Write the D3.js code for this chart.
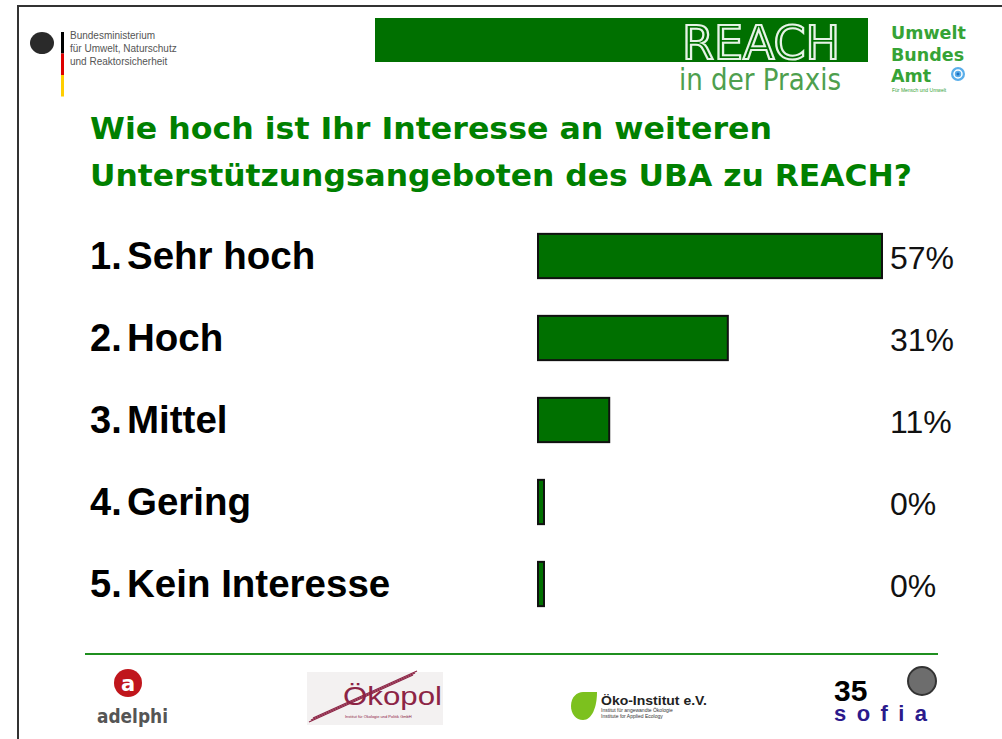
<!DOCTYPE html>
<html>
<head>
<meta charset="utf-8">
<script src="https://d3js.org/d3.v7.min.js"></script>
<style>
  body { margin: 0; background: #fff; }
  svg { display: block; }
</style>
</head>
<body>
<svg width="1002" height="739"></svg>
<script>
// data
var categories = ["Sehr hoch", "Hoch", "Mittel", "Gering", "Kein Interesse"]
var numbers = ["1.", "2.", "3.", "4.", "5."]
var values = [57, 31, 11, 0, 0]
var valueLabels = ["57%", "31%", "11%", "0%", "0%"]
var titleLines = ["Wie hoch ist Ihr Interesse an weiteren", "Unterstützungsangeboten des UBA zu REACH?"]
var ministryLines = ["Bundesministerium", "für Umwelt, Naturschutz", "und Reaktorsicherheit"]
var ubaLines = ["Umwelt", "Bundes", "Amt"]
var flagColors = ["#000000", "#dd0000", "#ffce00"]

const svg = d3.select("svg")
const green = "#007000"

// slide frame
svg.append("path")
  .attr("d", "M18,739 V6 H1002")
  .style("fill", "none").style("stroke", "#333").style("stroke-width", 2)

// ---- header: ministry logo
svg.append("ellipse").attr("cx", 42).attr("cy", 43).attr("rx", 12).attr("ry", 11).style("fill", "#2a2a2a")
svg.append("path").attr("d", "M33,48 Q42,60 51,48 Z").style("fill", "#2a2a2a")
svg.selectAll(".flag").data(flagColors).enter().append("rect")
  .attr("x", 61).attr("width", 3)
  .attr("y", function(d, i){ return 32 + i*21.5 })
  .attr("height", 21.5)
  .style("fill", function(d){ return d })
svg.selectAll(".min").data(ministryLines).enter().append("text")
  .attr("x", 70)
  .attr("y", function(d, i){ return 39 + i*13 })
  .style("font-family", "Liberation Sans, Arial, sans-serif")
  .style("font-size", "10px").style("fill", "#555")
  .text(function(d){ return d })

// ---- header: REACH banner
svg.append("rect").attr("x", 375).attr("y", 18).attr("width", 493).attr("height", 44)
  .style("fill", green)
svg.append("text").attr("x", 682).attr("y", 59)
  .attr("textLength", 158).attr("lengthAdjust", "spacingAndGlyphs")
  .style("font-family", "Liberation Sans Narrow, DejaVu Sans Condensed, Liberation Sans, sans-serif")
  .style("font-size", "46px").style("fill", green)
  .style("stroke", "#e6f3e6").style("stroke-width", 2)
  .text("REACH")
svg.append("text").attr("x", 679).attr("y", 90)
  .attr("textLength", 162).attr("lengthAdjust", "spacingAndGlyphs")
  .style("font-family", "Liberation Sans Narrow, DejaVu Sans Condensed, Liberation Sans, sans-serif")
  .style("font-size", "30px").style("fill", "#4e9f4e")
  .text("in der Praxis")

// ---- header: UBA
svg.selectAll(".uba").data(ubaLines).enter().append("text")
  .attr("x", 891)
  .attr("y", function(d, i){ return 39 + i*21.5 })
  .style("font-family", "DejaVu Sans, Verdana, sans-serif")
  .style("font-weight", "bold")
  .style("font-size", "17.5px").style("fill", "#36a336")
  .text(function(d){ return d })
svg.append("circle").attr("cx", 958).attr("cy", 74).attr("r", 7)
  .style("fill", "#5aaeea")
svg.append("circle").attr("cx", 958).attr("cy", 74).attr("r", 4).style("fill", "none")
  .style("stroke", "#fff").style("stroke-width", 1.5)
svg.append("circle").attr("cx", 958).attr("cy", 74).attr("r", 1.5).style("fill", "#1f6fc0")
svg.append("text").attr("x", 892).attr("y", 92)
  .style("font-family", "Liberation Sans, sans-serif").style("font-size", "5px").style("fill", "#36a336")
  .text("Für Mensch und Umwelt")

// ---- title
svg.selectAll(".title").data(titleLines).enter().append("text")
  .attr("x", 90)
  .attr("y", function(d, i){ return 139 + i*47 })
  .attr("textLength", function(d, i){ return i == 0 ? 682 : 822 })
  .attr("lengthAdjust", "spacingAndGlyphs")
  .style("font-family", "DejaVu Sans, Verdana, sans-serif")
  .style("font-weight", "bold").style("font-size", "30px").style("fill", "#008000")
  .text(function(d){ return d })

// ---- bars
const x0 = 538   // left edge of the bars (zero bars keep a small stub)
var x = d3.scaleLinear().domain([0, 57]).range([544, 882])
var y = d3.scaleBand().domain(categories).range([215, 625]).paddingInner(0.46).paddingOuter(0.23)

var rows = svg.append("g").selectAll("g").data(categories).enter().append("g")

rows.append("rect")
  .attr("x", x0)
  .attr("y", function(d){ return y(d) })
  .attr("width", function(d, i){ return x(values[i]) - x0 })
  .attr("height", y.bandwidth())
  .style("fill", green).style("stroke", "#111").style("stroke-width", 2)

rows.append("text")
  .attr("x", 90)
  .attr("y", function(d){ return y(d) + y.bandwidth()/2 + 12.5 })
  .style("font-family", "Liberation Sans, Arial, sans-serif")
  .style("font-weight", "bold").style("font-size", "38px").style("fill", "#000")
  .text(function(d, i){ return numbers[i] })

rows.append("text")
  .attr("x", 127)
  .attr("y", function(d){ return y(d) + y.bandwidth()/2 + 12.5 })
  .style("font-family", "Liberation Sans, Arial, sans-serif")
  .style("font-weight", "bold").style("font-size", "38.5px").style("fill", "#000")
  .text(function(d){ return d })

rows.append("text")
  .attr("x", 890)
  .attr("y", function(d){ return y(d) + y.bandwidth()/2 + 12.5 })
  .style("font-family", "Liberation Sans, Arial, sans-serif")
  .style("font-size", "32px").style("fill", "#111")
  .text(function(d, i){ return valueLabels[i] })

// ---- footer
svg.append("line").attr("x1", 85).attr("x2", 938).attr("y1", 654).attr("y2", 654)
  .style("stroke", "#1f8f1f").style("stroke-width", 2)

// adelphi
svg.append("circle").attr("cx", 128).attr("cy", 683).attr("r", 14).style("fill", "#c0161c")
svg.append("text").attr("x", 128).attr("y", 691).attr("text-anchor", "middle")
  .style("font-family", "DejaVu Sans, sans-serif").style("font-weight", "bold")
  .style("font-size", "21px").style("fill", "#fff").text("a")
svg.append("text").attr("x", 97).attr("y", 723)
  .attr("textLength", 71).attr("lengthAdjust", "spacingAndGlyphs")
  .style("font-family", "DejaVu Sans, sans-serif").style("font-weight", "bold")
  .style("font-size", "19px").style("fill", "#555").text("adelphi")

// Ökopol
svg.append("rect").attr("x", 307).attr("y", 672).attr("width", 136).attr("height", 53).style("fill", "#f3f1f1")
svg.selectAll(".oko").data([0, 1, 2]).enter().append("line")
  .attr("x1", function(d){ return 309 + d*2 }).attr("y1", function(d){ return 722 - d*2 })
  .attr("x2", function(d){ return 413 + d*2 }).attr("y2", function(d){ return 675 - d*2 })
  .style("stroke", "#8c2445").style("stroke-width", 1.2)
svg.append("text").attr("x", 343).attr("y", 705)
  .attr("textLength", 99).attr("lengthAdjust", "spacingAndGlyphs")
  .style("font-family", "Liberation Sans, Arial, sans-serif")
  .style("font-size", "26px").style("fill", "#8c2445").text("Ökopol")
svg.append("text").attr("x", 345).attr("y", 718)
  .style("font-family", "Liberation Sans, sans-serif").style("font-size", "4px").style("fill", "#8c2445")
  .text("Institut für Ökologie und Politik GmbH")

// Öko-Institut
svg.append("path").attr("d", "M571,706 C571,697 577,692 583,692 L597,692 C597,707 592,720 583,720 C576,720 571,714 571,706 Z")
  .style("fill", "#7cc11e")
svg.append("text").attr("x", 601).attr("y", 705)
  .attr("textLength", 106).attr("lengthAdjust", "spacingAndGlyphs")
  .style("font-family", "Liberation Sans, Arial, sans-serif").style("font-weight", "bold")
  .style("font-size", "13px").style("fill", "#222").text("Öko-Institut e.V.")
svg.append("text").attr("x", 601).attr("y", 712)
  .style("font-family", "Liberation Sans, sans-serif").style("font-size", "5px").style("fill", "#333")
  .text("Institut für angewandte Ökologie")
svg.append("text").attr("x", 601).attr("y", 718)
  .style("font-family", "Liberation Sans, sans-serif").style("font-size", "5px").style("fill", "#333")
  .text("Institute for Applied Ecology")

// page number / sofia
svg.append("text").attr("x", 834).attr("y", 701)
  .style("font-family", "Liberation Sans, Arial, sans-serif").style("font-weight", "bold")
  .style("font-size", "30px").style("fill", "#000").text("35")
svg.append("text").attr("x", 834).attr("y", 721)
  .attr("textLength", 93).attr("lengthAdjust", "spacing")
  .style("font-family", "Liberation Sans, Arial, sans-serif").style("font-weight", "bold")
  .style("font-size", "22px").style("fill", "#2b1a8c").text("sofia")
svg.append("circle").attr("cx", 922).attr("cy", 681).attr("r", 14)
  .style("fill", "#6d6d6d").style("stroke", "#333").style("stroke-width", 2)
</script>
</body>
</html>
